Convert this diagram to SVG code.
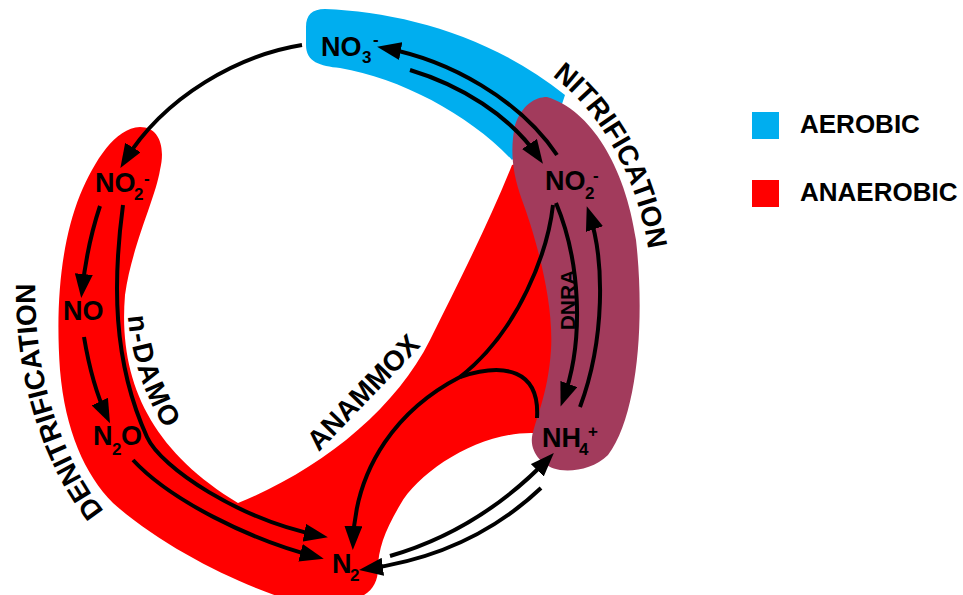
<svg xmlns="http://www.w3.org/2000/svg" width="963" height="595" viewBox="0 0 963 595">
<defs>
<style>
.lbl{font-family:"Liberation Sans",Arial,sans-serif;font-weight:bold;fill:#000;}
.chem{font-size:27px;}
.sub{font-size:17px;}
.proc{font-size:28px;}
.conn path{fill:none;stroke:#000;stroke-width:4;}
.arr{marker-end:url(#ah);}
</style>
<marker id="ah" viewBox="0 0 24 18" markerWidth="24" markerHeight="18" refX="17" refY="9" orient="auto" markerUnits="userSpaceOnUse">
<path d="M0,0 L24,9 L0,18 Z" fill="#000"/>
</marker>
<path id="pNit" d="M 552,76 C 592,105 640,170 650,264"/>
<path id="pDen" d="M 104,511 C 58,453 30,363 36,266"/>
<path id="pDamo" d="M 128,316 Q 134,390 181,452"/>
</defs>
<rect width="963" height="595" fill="#fff"/>

<g id="zones">
<path id="zone-anaerobic" fill="#FF0000" d="M 140,127 C 158,127 166,145 160,170 C 155,200 132,245 125,295 C 118,380 150,450 238,503 C 320,470 395,410 430,340 C 460,280 490,220 512,165 L 560,150 L 575,300 L 560,432 L 533,433 C 480,432 420,470 400,505 C 385,530 378,550 378,568 C 378,582 372,592 360,597 L 280,597 C 230,580 160,545 113,503 C 85,475 65,430 60,370 C 55,300 62,240 80,195 C 95,160 115,128 140,127 Z"/>
<path id="zone-aerobic" fill="#00AEEF" d="M 325,9 C 400,12 490,35 565,95 L 560,110 L 512,160 C 470,115 400,78 340,68 C 320,66 306,62 306,45 L 306,27 C 306,15 312,9 325,9 Z"/>
<path id="zone-both" fill="#A23B5C" d="M 547,97 C 590,110 625,165 636,240 C 645,320 638,415 608,455 C 595,468 575,472 560,470 C 542,467 530,452 532,437 C 535,420 548,395 551,350 C 554,300 535,235 522,200 C 512,172 510,150 515,125 C 522,105 535,97 547,97 Z"/>
</g>

<g id="connectors" class="conn">
<path class="arr" d="M 302,45 C 240,55 165,95 124,162"/>
<path class="arr" d="M 557,155 C 520,100 450,60 384,48"/>
<path class="arr" d="M 410,70 C 460,85 510,115 539,158"/>
<path class="arr" d="M 100,206 Q 87,245 82,291"/>
<path class="arr" d="M 84,337 Q 92,385 107,417"/>
<path class="arr" d="M 123,205 C 113,280 112,360 147,437 C 161,468 240,520 321,536"/>
<path class="arr" d="M 133,460 C 170,500 250,540 317,557"/>
<path class="arr" d="M 553,205 C 548,250 520,330 460,377 C 400,408 355,465 353,543"/>
<path d="M 537,418 C 540,370 505,362 460,377"/>
<path class="arr" d="M 556,203 C 580,260 585,340 563,400"/>
<path class="arr" d="M 580,407 C 605,340 605,260 589,213"/>
<path class="arr" d="M 390,556 Q 480,530 549,458"/>
<path class="arr" d="M 541,488 Q 470,555 366,569"/>
</g>

<g id="node-no3">
<text class="lbl chem" x="321" y="56">NO<tspan class="sub" x="362" y="63">3</tspan><tspan class="sub" x="373" y="45">-</tspan></text>
</g>
<g id="node-no2-right">
<text class="lbl chem" x="545" y="190">NO<tspan class="sub" x="585" y="199">2</tspan><tspan class="sub" x="593" y="181">-</tspan></text>
</g>
<g id="node-no2-left">
<text class="lbl chem" x="95" y="192">NO<tspan class="sub" x="134" y="200">2</tspan><tspan class="sub" x="144" y="184">-</tspan></text>
</g>
<g id="node-no">
<text class="lbl chem" x="63" y="320">NO</text>
</g>
<g id="node-n2o">
<text class="lbl chem" x="93" y="445">N<tspan class="sub" x="112" y="455">2</tspan><tspan x="121" y="445">O</tspan></text>
</g>
<g id="node-n2">
<text class="lbl chem" x="332" y="573">N<tspan class="sub" x="350" y="581">2</tspan></text>
</g>
<g id="node-nh4">
<text class="lbl chem" x="542" y="447">NH<tspan class="sub" x="579" y="455">4</tspan><tspan class="sub" x="588" y="437">+</tspan></text>
</g>

<g id="label-nitrification">
<text class="lbl proc"><textPath href="#pNit">NITRIFICATION</textPath></text>
</g>
<g id="label-denitrification">
<text class="lbl proc"><textPath href="#pDen">DENITRIFICATION</textPath></text>
</g>
<g id="label-ndamo">
<text class="lbl proc"><textPath href="#pDamo" textLength="120" lengthAdjust="spacing">n-DAMO</textPath></text>
</g>
<g id="label-anammox">
<text class="lbl" font-size="28" text-anchor="middle" transform="translate(370,399) rotate(-46)">ANAMMOX</text>
</g>
<g id="label-dnra">
<text class="lbl" font-size="21" text-anchor="middle" transform="translate(575,300) rotate(-90)">DNRA</text>
</g>

<g id="legend">
<rect x="752" y="112" width="27" height="27" fill="#00AEEF"/>
<text class="lbl" font-size="26" x="800" y="133">AEROBIC</text>
<rect x="752" y="180" width="27" height="27" fill="#FF0000"/>
<text class="lbl" font-size="26" x="800" y="201">ANAEROBIC</text>
</g>
</svg>
